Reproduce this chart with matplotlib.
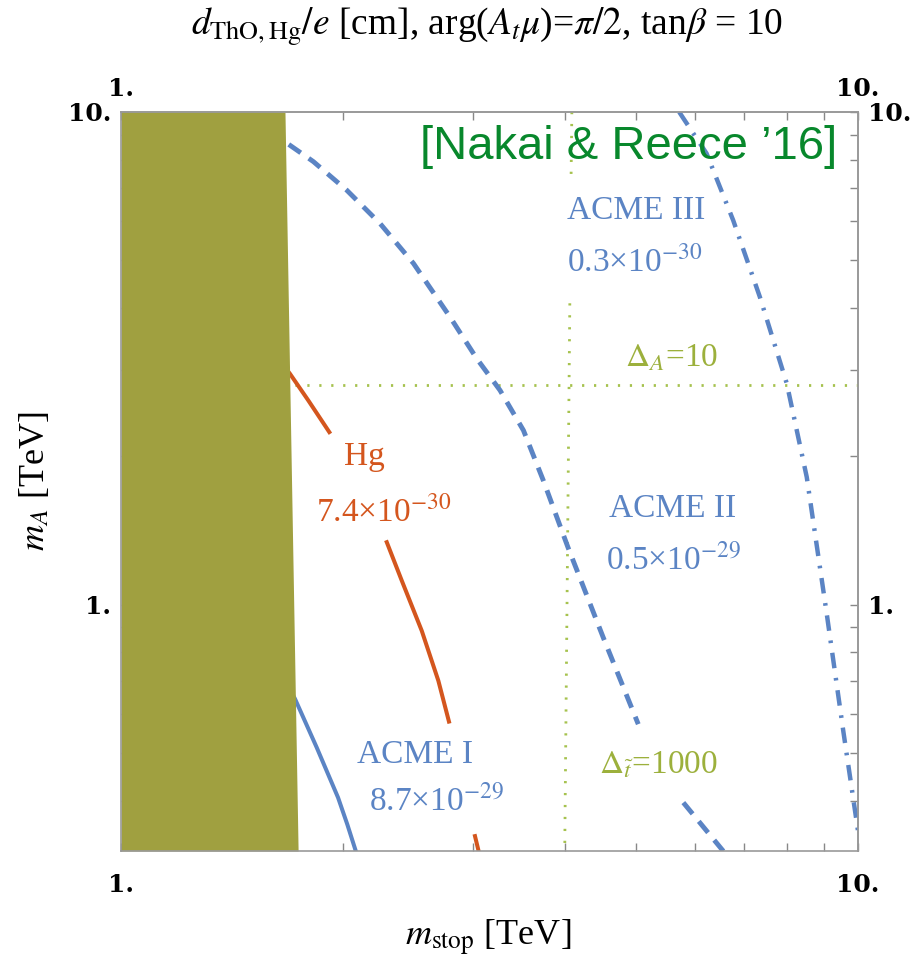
import numpy as np
import matplotlib
matplotlib.use("Agg")
import matplotlib.pyplot as plt
from matplotlib.ticker import LogLocator, NullFormatter

plt.rcParams.update({"font.family": "Liberation Serif", "mathtext.fontset": "stix"})

# ---------------------------------------------------------------- data (TeV)
# excluded region (olive band on the left), boundary m_stop(m_A)
excl_mA = [10 ** -0.5, 10.0]
excl_mstop = [1.739, 1.669]

# EDM contours; nan = gap where Mathematica put the contour label
acme1_mstop = [1.68, 1.722, 1.843, 1.970, 2.028, 2.084]
acme1_mA = [0.69, 0.644, 0.513, 0.406, 0.358, 0.315]

hg_mstop = [1.65, 1.695, 1.795, 1.917, np.nan, 2.294, 2.404, 2.559, 2.695, 2.786,
            np.nan, 3.022, 3.058]
hg_mA = [3.10, 2.943, 2.598, 2.240, np.nan, 1.339, 1.119, 0.885, 0.701, 0.579,
         np.nan, 0.339, 0.315]

acme2_mstop = [1.60, 1.669, 1.824, 2.024, 2.246, 2.493, 2.795, 3.038, 3.268, 3.516,
               3.741, 4.04, 4.511, 5.033, np.nan, 5.794, 6.565]
acme2_mA = [9.30, 8.70, 7.93, 6.94, 5.94, 4.93, 3.837, 3.16, 2.723, 2.258,
            1.787, 1.308, 0.858, 0.572, np.nan, 0.3965, 0.316]

acme3_mstop = [5.72, 5.794, 6.23, 6.77, 7.36, 8.005, 8.52, 9.07, 9.55, 10.0]
acme3_mA = [10.0, 9.71, 8.24, 6.03, 4.21, 2.81, 1.815, 0.957, 0.554, 0.347]

# fine-tuning contours
dt_mstop = [4.09, 4.08, np.nan, 4.064, 4.0]
dt_mA = [10.0, 7.34, np.nan, 4.09, 10 ** -0.5]
dA_mstop = [1.60, 10.0]
dA_mA = [2.79, 2.79]

tick_vals = [1, 10]
tick_labels = ["1.", "10."]

C_BLUE, C_ORANGE = "#5B84C4", "#D4561E"
C_GREEN_LINE, C_GREEN_TXT = "#A6C24E", "#9CB03C"
C_OLIVE, C_NAKAI = "#A0A040", "#08882C"
C_AX = "#999999"

fig = plt.figure(figsize=(9.23, 9.58), dpi=100)
ax = fig.add_axes([0.1311, 0.1117, 0.7985, 0.7714])
ax.set_xscale("log"); ax.set_yscale("log")

ax.fill_betweenx(excl_mA, 1.0, excl_mstop, color=C_OLIVE, lw=0, zorder=2.2)

ax.plot(acme1_mstop, acme1_mA, color=C_BLUE, lw=2.9, zorder=2.1)
ax.plot(hg_mstop, hg_mA, color=C_ORANGE, lw=2.9, zorder=2.1)
ax.plot(acme2_mstop, acme2_mA, color=C_BLUE, lw=3.5, dashes=(3, 2), zorder=2.1)
ax.plot(acme3_mstop, acme3_mA, color=C_BLUE, lw=3.2, dashes=(3.5, 2.2, 0.6, 2.2), zorder=2.1)
ax.plot(dt_mstop, dt_mA, color=C_GREEN_LINE, lw=2.0, dashes=(0.8, 3.5), zorder=2.0)
ax.plot(dA_mstop, dA_mA, color=C_GREEN_LINE, lw=2.0, dashes=(0.8, 3.5), zorder=2.0)

ax.set_xlim(1, 10); ax.set_ylim(10 ** -0.5, 10)

# contour labels
lab = dict(fontsize=24, ha="center", va="center", zorder=5)
ax.text(5.00, 6.29, "ACME III", color=C_BLUE, **lab)
ax.text(4.97, 4.96, r"0.3×10$^{-30}$", color=C_BLUE, **lab)
ax.text(5.59, 3.16, r"$\Delta_A$=10", color=C_GREEN_TXT, **lab)
ax.text(2.137, 2.0, "Hg", color=C_ORANGE, **lab)
ax.text(2.275, 1.538, r"7.4×10$^{-30}$", color=C_ORANGE, **lab)
ax.text(5.61, 1.567, "ACME II", color=C_BLUE, **lab)
ax.text(5.61, 1.229, r"0.5×10$^{-29}$", color=C_BLUE, **lab)
ax.text(5.354, 0.473, r"$\Delta_{\tilde{t}}$=1000", color=C_GREEN_TXT, **lab)
ax.text(2.506, 0.496, "ACME I", color=C_BLUE, **lab)
ax.text(2.676, 0.40, r"8.7×10$^{-29}$", color=C_BLUE, **lab)
ax.text(4.89, 8.49, "[Nakai & Reece \u201916]", color=C_NAKAI, fontsize=34,
        family="Liberation Sans", ha="center", va="center", zorder=5)

# frame + ticks on all four sides (Mathematica style)
tick_kw = dict(which="both", direction="in", length=5.8, width=1, color="#888888",
               labelsize=18)
ax.set_xticks(tick_vals, labels=tick_labels)
ax.set_yticks(tick_vals, labels=tick_labels)
for a in (ax.xaxis, ax.yaxis):
    a.set_minor_locator(LogLocator(base=10, subs=np.arange(2, 10)))
    a.set_minor_formatter(NullFormatter())
ax.tick_params(axis="x", pad=16, **tick_kw)
ax.tick_params(axis="y", pad=7, **tick_kw)

top = ax.secondary_xaxis("top")
right = ax.secondary_yaxis("right")
top.set_xticks(tick_vals, labels=tick_labels)
right.set_yticks(tick_vals, labels=tick_labels)
top.xaxis.set_minor_locator(LogLocator(base=10, subs=np.arange(2, 10)))
top.xaxis.set_minor_formatter(NullFormatter())
right.yaxis.set_minor_locator(LogLocator(base=10, subs=np.arange(2, 10)))
right.yaxis.set_minor_formatter(NullFormatter())
top.tick_params(pad=8, **tick_kw)
right.tick_params(pad=7, **tick_kw)

for a in (ax, top, right):
    for lbl in a.get_xticklabels() + a.get_yticklabels():
        lbl.set_fontfamily("DejaVu Serif"); lbl.set_fontweight("bold")
    for s in a.spines.values():
        s.set_color(C_AX); s.set_linewidth(1.2)

fig.text(0.5276, 0.9635, r"$d_{\mathrm{ThO,Hg}}/e$ [cm], arg($A_t\mu$)=$\pi/2$, tan$\beta$ = 10",
         fontsize=27, ha="center", va="baseline")
fig.text(0.5287, 0.0209, r"$m_{\mathrm{stop}}$ [TeV]", fontsize=26, ha="center", va="center")
fig.text(0.0379, 0.498, r"$m_A$ [TeV]", fontsize=26, ha="center", va="center", rotation=90)

fig.savefig("out.png", dpi=100)
